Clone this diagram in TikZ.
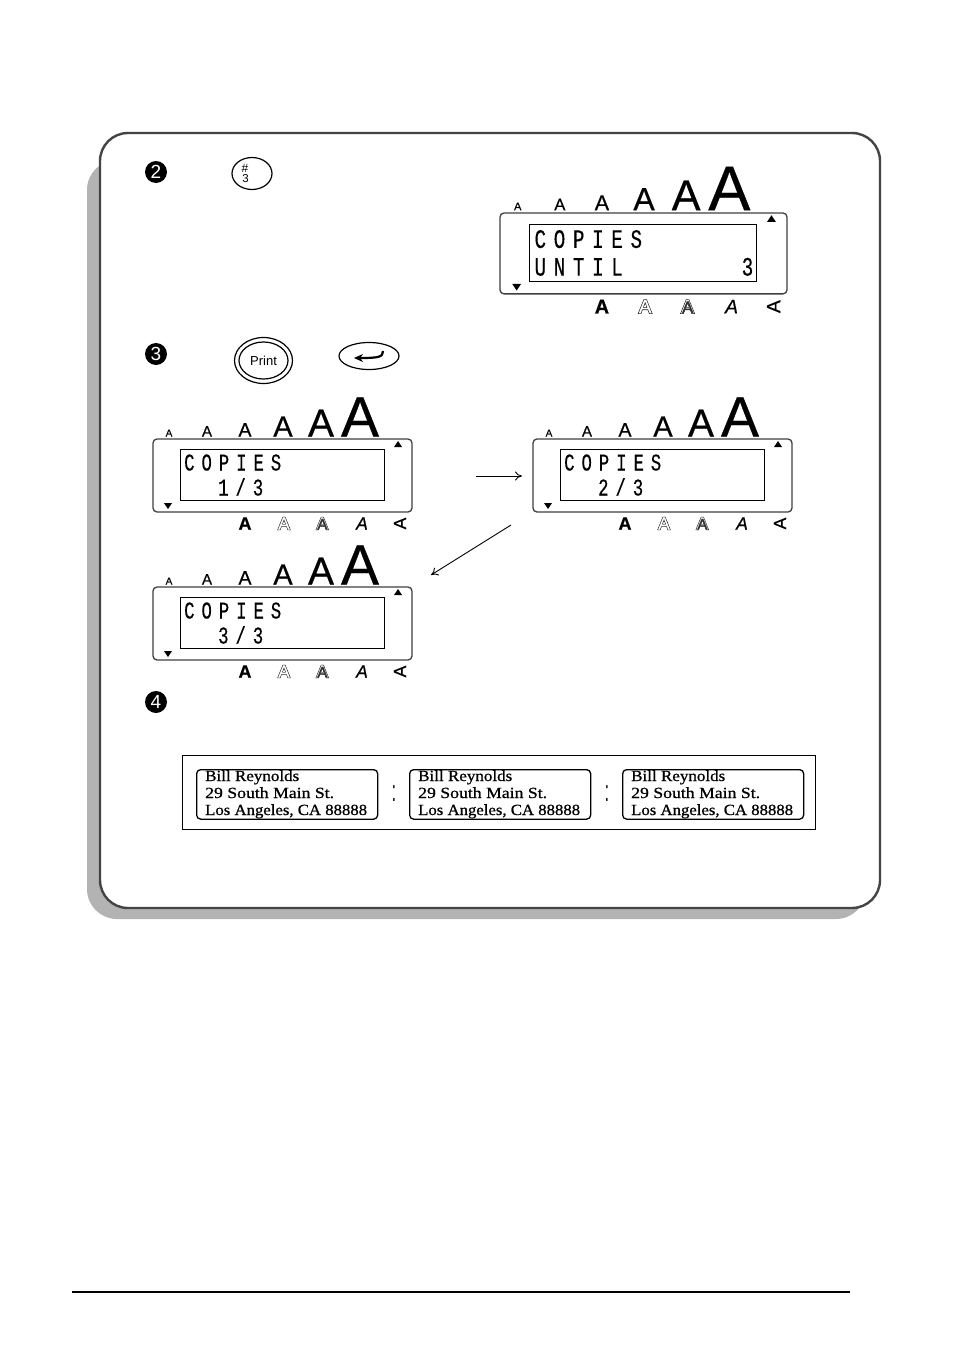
\documentclass[tikz,border=0pt]{standalone}
\usepackage{fontspec}
\usetikzlibrary{arrows.meta,shapes.geometric}
\setmainfont{Liberation Sans}
\newfontfamily\lcdf[FakeStretch=.72,LetterSpace=29,FakeBold=.35]{Liberation Mono}
\newfontfamily\fatf[FakeBold=7]{Liberation Sans}
\newfontfamily\semif[FakeBold=.5]{Liberation Sans}
\newfontfamily\semii[FakeBold=.5]{Liberation Sans Italic}
\newfontfamily\heavyf[FakeBold=.6]{Liberation Sans Bold}
\newfontfamily\addrf[FakeStretch=1.12,FakeBold=.8]{Liberation Serif}
\definecolor{shadowgray}{HTML}{B3B3B3}
\definecolor{paneledge}{HTML}{444444}
\tikzset{
  topA/.style={inner sep=0pt,anchor=base},
  lcdtext/.style={inner sep=0pt,anchor=base west,font=\fontsize{24}{24}\lcdf},
  styleA/.style={inner sep=0pt,font=\fontsize{17.5}{18}\semif},
  stepnum/.style={circle,fill=black,text=white,inner sep=0pt,minimum size=22pt,font=\fontsize{19}{19}\selectfont},
  lcdouter/.style={draw=black!75,line width=1.3pt,rounded corners=4pt},
  lcdinner/.style={draw=black,line width=.9pt},
  keyshape/.style={ellipse,draw=black,line width=1.2pt,inner sep=0pt},
  labelbox/.style={draw=black,line width=1.3pt,rounded corners=4pt,minimum width=181pt,minimum height=49.5pt,inner sep=0pt},
  addr/.style={inner sep=0pt,anchor=base west,font=\fontsize{15.5}{15.5}\addrf},
  flow/.style={-{To[length=7pt,width=9pt]},line width=.9pt},
}
% #1 name, #2 x, #3 y, #4 scale, #5 extra nodes on the second line
\newcommand\lcd[5]{%
  \begin{scope}[shift={(#2,#3)},scale=#4,transform shape]
    \node[topA,font=\fontsize{10}{10}\semif] (#1t1) at (16,-2.5) {A};
    \node[topA,font=\fontsize{15}{15}\semif] (#1t2) at (54,-2.5) {A};
    \node[topA,font=\fontsize{19.5}{20}\semif] (#1t3) at (92,-2.5) {A};
    \node[topA,font=\fontsize{29}{29}\semif] (#1t4) at (130,-2.5) {A};
    \node[topA,font=\fontsize{39}{39}\semif] (#1t5) at (168,-2.5) {A};
    \node[topA,font=\fontsize{57}{57}\semif] (#1t6) at (207,-2.5) {A};
    \draw[lcdouter] (0,0) rectangle (259,73);
    \draw[lcdinner] (27,10) rectangle (231.5,61.5);
    \fill (241,8) -- (245,2) -- (249,8) -- cycle;
    \fill (11,64) -- (19,64) -- (15,70) -- cycle;
    \node[lcdtext] (#1l1) at (31,31.5) {COPIES};
    #5
    \node[styleA,font=\fontsize{18}{18}\heavyf] (#1s1) at (92,84.5) {A};
    \node[styleA] (#1s2) at (131,84.5) {\rlap{\fatf A}\textcolor{white}{A}};
    \node[styleA] (#1s3) at (169,84.5) {\rlap{\fatf A}\rlap{\textcolor{white}{A}}\kern.8pt\textcolor{black!80}{\fontsize{15.5}{16}\selectfont A}};
    \node[styleA,font=\fontsize{17.5}{18}\semii] (#1s4) at (209,84.5) {A};
    \node[styleA,rotate=90] (#1s5) at (247,84.5) {A};
  \end{scope}}
\newcommand\addrlabel[2]{%
  \node[labelbox,anchor=north west] (#1) at (#2,769) {};
  \node[addr,xscale=.98] (#1a) at (#2+9,781) {Bill Reynolds};
  \node[addr,xscale=1.02] (#1b) at (#2+9,798) {29 South Main St.};
  \node[addr,xscale=.965] (#1c) at (#2+9,815) {Los Angeles, CA 88888};}
\begin{document}
\begin{tikzpicture}[x=1pt,y=-1pt]
  \useasboundingbox (0,0) rectangle (954,1357);
  \fill[white] (0,0) rectangle (954,1357);
  % panel
  \fill[shadowgray,rounded corners=30pt] (87,160) rectangle (866,919);
  \draw[paneledge,fill=white,line width=2.4pt,rounded corners=28pt] (100,133) rectangle (880,908);
  % step marks
  \node[stepnum] (s2) at (156,172) {2};
  \node[stepnum] (s3) at (156,354) {3};
  \node[stepnum] (s4) at (156,702) {4};
  % keys
  \node[keyshape,minimum width=40pt,minimum height=32pt] (k3) at (252,173.5) {};
  \node[inner sep=0pt,font=\fontsize{12}{12}\selectfont] (k3a) at (245,168) {\#};
  \node[inner sep=0pt,font=\fontsize{11.5}{12}\selectfont] (k3b) at (245.5,179) {3};
  \node[keyshape,minimum width=58pt,minimum height=46pt] (kp) at (263.5,360.5) {};
  \node[keyshape,minimum width=49pt,minimum height=37pt,font=\fontsize{13}{13}\selectfont] (kpi) at (263.5,360.5) {Print};
  \node[keyshape,minimum width=60pt,minimum height=27pt] (ke) at (369,356) {};
  \coordinate (ke1) at (383,351);
  \coordinate (ke2) at (354,358);
  \draw[line width=2.2pt,-{Stealth[length=9pt,width=8pt]}] (ke1) .. controls (383,357) and (379,358) .. (ke2);
  % displays
  \lcd{a}{500}{213}{1.108}{\node[lcdtext] (al2) at (31,56.5) {UNTIL};\node[lcdtext] (al3) at (218,56.5) {3};}
  \lcd{b}{153}{439}{1}{\node[lcdtext] (bl2) at (65,56.5) {1/3};}
  \lcd{c}{533}{439}{1}{\node[lcdtext] (cl2) at (65,56.5) {2/3};}
  \lcd{d}{153}{587}{1}{\node[lcdtext] (dl2) at (65,56.5) {3/3};}
  % arrows
  \coordinate (f1a) at (476,476);
  \coordinate (f1b) at (522,476);
  \coordinate (f2a) at (511,525);
  \coordinate (f2b) at (431,575);
  \draw[flow] (f1a) -- (f1b);
  \draw[flow] (f2a) -- (f2b);
  % label strip
  \node[draw=black,line width=.9pt,minimum width=633.4pt,minimum height=74.4pt,inner sep=0pt,anchor=north west] (strip) at (181.7,754.7) {};
  \addrlabel{la}{196}
  \addrlabel{lb}{409}
  \addrlabel{lc}{622}
  \node[inner sep=0pt,yscale=2,font=\fontsize{15}{15}\selectfont] (c1) at (394,794) {:};
  \node[inner sep=0pt,yscale=2,font=\fontsize{15}{15}\selectfont] (c2) at (607,794) {:};
  % rule
  \coordinate (r1) at (72,1292);
  \coordinate (r2) at (850,1292);
  \draw[line width=2.6pt] (r1) -- (r2);
\end{tikzpicture}
\end{document}
